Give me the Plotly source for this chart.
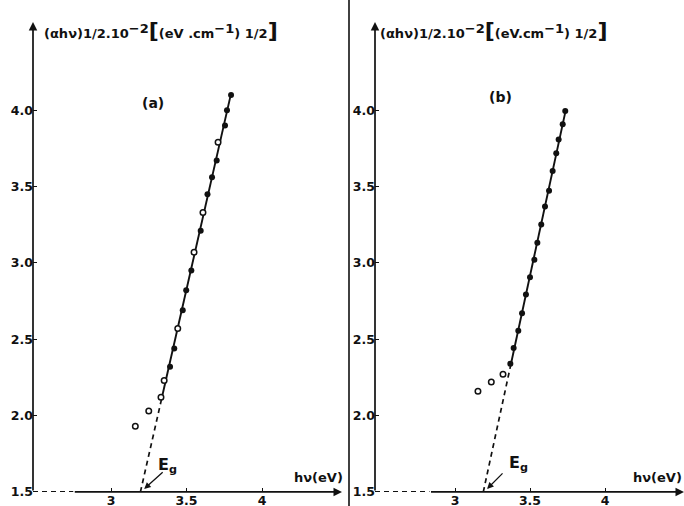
import numpy as np
import plotly.graph_objects as go

# ---------------- data ----------------
# panel (a)
a_filled_hv = [3.795, 3.768, 3.755, 3.700, 3.669, 3.639, 3.594, 3.532, 3.498, 3.475, 3.419, 3.391]
a_filled_val = [4.10, 4.00, 3.90, 3.67, 3.56, 3.45, 3.21, 2.95, 2.82, 2.69, 2.44, 2.32]
a_open_on_hv = [3.709, 3.609, 3.550, 3.442, 3.352, 3.331]
a_open_on_val = [3.79, 3.33, 3.07, 2.57, 2.23, 2.12]
a_open_off_hv = [3.250, 3.161]
a_open_off_val = [2.03, 1.93]

# panel (b)
b_filled_hv = [3.735, 3.718, 3.691, 3.675, 3.651, 3.627, 3.600, 3.575, 3.549, 3.529,
               3.500, 3.473, 3.447, 3.422, 3.391, 3.369]
b_filled_val = [3.995, 3.908, 3.808, 3.718, 3.602, 3.473, 3.370, 3.252, 3.132, 3.020,
                2.906, 2.793, 2.670, 2.556, 2.443, 2.340]
b_open_off_hv = [3.320, 3.242, 3.153]
b_open_off_val = [2.27, 2.22, 2.16]

x_tick_vals = [3, 3.5, 4]
x_tick_text = ["3", "3.5", "4"]
y_tick_vals = [1.5, 2.0, 2.5, 3.0, 3.5, 4.0]
y_tick_text = ["1.5", "2.0", "2.5", "3.0", "3.5", "4.0"]
y_base = 1.5

# ---------------- layout constants ----------------
W, H = 684, 506          # target picture size (positions below are in these pixels)
FIG_H = 514              # page height that ends up photographed as 506 px
FONT = "DejaVu Sans"
BLACK = "#111111"

xa_range = [2.4834, 4.5298]
xb_range = [2.4667, 4.5267]
y_range = [1.5, 4.577]
xa_dom = [33 / W, 342 / W]
xb_dom = [375 / W, 1.0]
y_dom = [(H - 491) / H, (H - 22) / H]
break_a = 2.75
break_b = 2.83


def fit_line(hv, val):
    k = np.polyfit(np.array(val), np.array(hv), 1)
    return lambda v: k[0] * v + k[1]


fig = go.Figure()


def add_panel(xref, yref, on_hv, on_val, filled_hv, filled_val, off_hv, off_val, opens_on=None):
    f = fit_line(on_hv, on_val)
    vmin, vmax = min(on_val), max(on_val)
    eg = f(y_base)
    # dashed extrapolation
    fig.add_trace(go.Scatter(x=[eg, f(vmin)], y=[y_base, vmin], mode="lines",
                             line=dict(color=BLACK, width=1.7, dash="5px,4px"),
                             xaxis=xref, yaxis=yref, hoverinfo="skip"))
    # solid fit line
    fig.add_trace(go.Scatter(x=[f(vmin), f(vmax)], y=[vmin, vmax], mode="lines",
                             line=dict(color=BLACK, width=1.9),
                             xaxis=xref, yaxis=yref, hoverinfo="skip"))
    fig.add_trace(go.Scatter(x=filled_hv, y=filled_val, mode="markers",
                             marker=dict(color=BLACK, size=6, line=dict(width=0)),
                             xaxis=xref, yaxis=yref))
    ohv = list(off_hv) + (list(opens_on[0]) if opens_on else [])
    oval = list(off_val) + (list(opens_on[1]) if opens_on else [])
    fig.add_trace(go.Scatter(x=ohv, y=oval, mode="markers",
                             marker=dict(color="white", size=5.5, line=dict(color=BLACK, width=1.5)),
                             xaxis=xref, yaxis=yref))
    return eg


eg_a = add_panel("x", "y",
                 a_filled_hv + a_open_on_hv, a_filled_val + a_open_on_val,
                 a_filled_hv, a_filled_val, a_open_off_hv, a_open_off_val,
                 opens_on=(a_open_on_hv, a_open_on_val))
eg_b = add_panel("x2", "y2", b_filled_hv, b_filled_val,
                 b_filled_hv, b_filled_val, b_open_off_hv, b_open_off_val)

tickfont = dict(family=FONT, size=12.5, color=BLACK, weight="bold")
common_x = dict(showgrid=False, zeroline=False, showline=False, ticks="inside", ticklen=4,
                tickwidth=1.4, tickcolor=BLACK, tickvals=x_tick_vals, ticktext=x_tick_text,
                tickfont=tickfont, fixedrange=True, ticklabelstandoff=0)
common_y = dict(showgrid=False, zeroline=False, showline=False, ticks="inside", ticklen=4,
                tickwidth=1.4, tickcolor=BLACK, tickvals=y_tick_vals, ticktext=y_tick_text,
                tickfont=tickfont, range=y_range, domain=y_dom, fixedrange=True,
                ticklabelstandoff=-1)

fig.update_layout(
    width=W, height=FIG_H, margin=dict(l=0, r=0, t=0, b=0),
    paper_bgcolor="white", plot_bgcolor="white", showlegend=False,
    xaxis=dict(common_x, domain=xa_dom, range=xa_range, anchor="y"),
    yaxis=dict(common_y, anchor="x"),
    xaxis2=dict(common_x, domain=xb_dom, range=xb_range, anchor="y2"),
    yaxis2=dict(common_y, anchor="x2"),
)

SUP = "<sup><span style='font-size:13px'>{}</span></sup>"
BR = "<span style='font-size:22px'>{}</span>"
title_a = ("(αhν)1/2.10" + SUP.format("−2") + BR.format("[") + "(eV .cm" + SUP.format("−1")
           + ") 1/2" + BR.format("]"))
title_b = ("(αhν)1/2.10" + SUP.format("−2") + BR.format("[") + "(eV.cm" + SUP.format("−1")
           + ") 1/2" + BR.format("]"))

annotations = []
shapes = []
for xr, yr, xrange_, brk, eg, title, title_x, lab, lab_xy, eg_lab_xy, eg_off, hv_x in [
    ("x", "y", xa_range, break_a, eg_a, title_a, 42, "(a)", (153, 103), (167, 465), (20, -18), 318),
    ("x2", "y2", xb_range, break_b, eg_b, title_b, 378, "(b)", (500, 97), (518, 463), (17, -17), 657),
]:
    # y axis with arrow
    annotations.append(dict(x=xrange_[0], y=y_range[1], ax=xrange_[0], ay=y_base,
                            xref=xr, yref=yr, axref=xr, ayref=yr, text="", showarrow=True,
                            arrowhead=2, arrowsize=1, arrowwidth=1.7, arrowcolor=BLACK))
    # x axis with arrow (solid part)
    annotations.append(dict(x=xrange_[1], y=y_base, ax=brk, ay=y_base,
                            xref=xr, yref=yr, axref=xr, ayref=yr, text="", showarrow=True,
                            arrowhead=2, arrowsize=1, arrowwidth=1.7, arrowcolor=BLACK))
    # dashed part of x axis
    shapes.append(dict(type="line", xref=xr, yref=yr, x0=xrange_[0], x1=brk, y0=y_base, y1=y_base,
                       line=dict(color=BLACK, width=1.7, dash="5px,4px")))
    # title
    annotations.append(dict(x=title_x / W, y=1 - 30 / H, xref="paper", yref="paper",
                            xanchor="left", yanchor="middle", showarrow=False, text=title,
                            font=dict(family=FONT, size=13, color=BLACK, weight="bold")))
    # panel label
    annotations.append(dict(x=lab_xy[0] / W, y=1 - lab_xy[1] / H, xref="paper", yref="paper",
                            xanchor="center", yanchor="middle", showarrow=False, text=lab,
                            font=dict(family=FONT, size=14, color=BLACK, weight="bold")))
    # hv(eV)
    annotations.append(dict(x=hv_x / W, y=1 - 477 / H, xref="paper", yref="paper",
                            xanchor="center", yanchor="middle", showarrow=False, text="hν(eV)",
                            font=dict(family=FONT, size=13, color=BLACK, weight="bold")))
    # Eg label
    annotations.append(dict(x=eg_lab_xy[0] / W, y=1 - eg_lab_xy[1] / H, xref="paper", yref="paper",
                            xanchor="center", yanchor="middle", showarrow=False, text="E<sub>g</sub>",
                            font=dict(family=FONT, size=16, color=BLACK, weight="bold")))
    # Eg arrow
    annotations.append(dict(x=eg + 0.025, y=y_base + 0.02, xref=xr, yref=yr,
                            ax=eg_off[0], ay=eg_off[1],
                            text="", showarrow=True, arrowhead=2, arrowsize=1, arrowwidth=1.3,
                            arrowcolor=BLACK))

# divider between the panels
shapes.append(dict(type="line", xref="paper", yref="paper", x0=349 / W, x1=349 / W, y0=0, y1=1,
                   line=dict(color=BLACK, width=1.6)))

fig.update_layout(annotations=annotations, shapes=shapes)
fig.write_html("out.html", config={"displayModeBar": False},
               post_script="document.body.style.margin='0';document.body.style.overflow='hidden';")
